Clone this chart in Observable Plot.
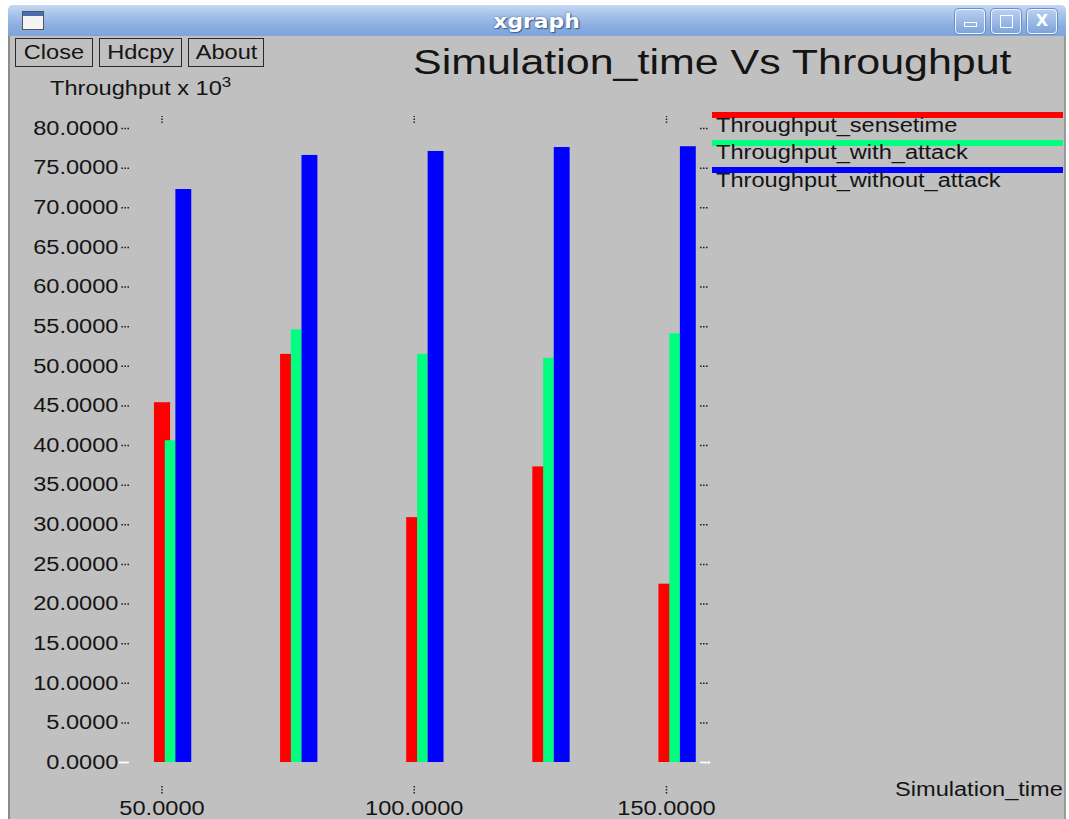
<!DOCTYPE html>
<html><head><meta charset="utf-8">
<script src="https://cdn.jsdelivr.net/npm/d3@7"></script>
<script src="https://cdn.jsdelivr.net/npm/@observablehq/plot@0.6"></script>
<style>
html,body{margin:0;padding:0;background:#fff;width:1069px;height:819px;overflow:hidden;position:relative;}
.abs{position:absolute;}
.t{position:absolute;white-space:nowrap;font-family:"Liberation Sans",Arial,sans-serif;line-height:1;transform-origin:0 0;transform:scaleX(1.21);color:#141414;}
#titlebar{left:8px;top:5px;width:1058px;height:31px;border-radius:5px 5px 0 0;
  background:linear-gradient(to bottom,#c4d8f2 0%,#a3c0e8 35%,#89addf 70%,#7ea4da 100%);}
#wtitle{left:0;top:0;width:1058px;height:31px;display:flex;align-items:center;justify-content:center;
  font-family:"DejaVu Sans",sans-serif;font-weight:bold;font-size:19px;color:#fff;text-shadow:0 0 2px #4a6a9a,1px 1px 1px #3b5a8a;}
#wtitle span{display:inline-block;transform:scaleX(1.15);}
.wbtn{position:absolute;top:4px;width:28px;height:23px;border:1px solid #eef4ff;border-radius:4px;
  background:linear-gradient(to bottom,#b8cff0,#7ea4da);box-shadow:0 0 0 1px #6a8fc6;}
#body{left:8px;top:36px;width:1054px;height:800px;background:#c0c0c0;border-left:2px solid #8c8c8c;border-right:2px solid #9a9a9a;}
.btn{position:absolute;top:38px;height:29px;border:1.5px solid #2a2a2a;box-sizing:border-box;display:flex;align-items:center;justify-content:center;}
.btn span{display:inline-block;font-family:"Liberation Sans",Arial,sans-serif;font-size:19.5px;color:#141414;transform:scaleX(1.21);line-height:1;}
.lg{position:absolute;left:712px;width:351px;height:6px;}
#chart{position:absolute;left:0;top:0;}
</style></head>
<body>
<div id="titlebar" class="abs">
  <div id="wtitle" class="abs"><span>xgraph</span></div>
  <div class="abs" style="left:14px;top:6px;width:20px;height:17px;background:#f4f4f4;border:1px solid #555;">
    <div style="height:4px;background:#4a6fb0;"></div></div>
  <div class="wbtn" style="left:947px;"><div class="abs" style="left:8px;top:12px;width:11px;height:3px;border:1px solid #fff;"></div></div>
  <div class="wbtn" style="left:983px;"><div class="abs" style="left:8px;top:5px;width:11px;height:11px;border:1px solid #fff;"></div></div>
  <div class="wbtn" style="left:1019px;"><div class="abs" style="left:0;top:1px;width:28px;text-align:center;color:#fff;font:bold 16px 'DejaVu Sans',sans-serif;">X</div></div>
</div>
<div id="body" class="abs"></div>
<div class="btn" style="left:15px;width:78px;"><span>Close</span></div>
<div class="btn" style="left:99px;width:83px;"><span>Hdcpy</span></div>
<div class="btn" style="left:188px;width:76px;"><span>About</span></div>
<div class="t" style="left:413px;top:45px;font-size:35.5px;">Simulation_time Vs Throughput</div>
<div class="t" style="left:50px;top:79px;font-size:19.5px;">Throughput x 10<span style="font-size:14px;position:relative;top:-8px;">3</span></div>
<div class="t" style="left:895px;top:780px;font-size:19.5px;">Simulation_time</div>
<div id="legend"></div>
<div id="chart"></div>
<script>
// ---- data ----
const times = [50, 75, 100, 125, 150];
const senseTime = [45.4, 51.5, 30.9, 37.3, 22.5];
const withAttack = [40.6, 54.6, 51.5, 51.0, 54.1];
const withoutAttack = [72.3, 76.6, 77.1, 77.6, 77.7];
const seriesNames = ["Throughput_sensetime", "Throughput_with_attack", "Throughput_without_attack"];
const seriesColors = ["#ff0000", "#00ff7f", "#0000ff"];
const yTicks = [0, 5, 10, 15, 20, 25, 30, 35, 40, 45, 50, 55, 60, 65, 70, 75, 80];
const xTicks = [50, 100, 150];

const seriesValues = [senseTime, withAttack, withoutAttack];
// bar extents relative to each time point (x data units)
const barSpan = [[-1.5, 1.7], [0.65, 2.75], [2.75, 5.9]];

const barMarks = seriesValues.map((vals, s) =>
  Plot.rectY(times.map((t, i) => ({t, v: vals[i]})), {
    x1: d => d.t + barSpan[s][0],
    x2: d => d.t + barSpan[s][1],
    y1: 0, y2: "v",
    fill: seriesColors[s]
  })
);

const dots = {stroke: "#222", strokeWidth: 1.5, strokeDasharray: "1.6,1.4"};

const chart = Plot.plot({
  width: 1069, height: 819,
  marginLeft: 129, marginRight: 370, marginTop: 122, marginBottom: 33,
  style: {background: "transparent", fontFamily: "'Liberation Sans', Arial, sans-serif", fontSize: "19.5px", color: "#141414", overflow: "visible"},
  x: {domain: [50, 150], range: [161.5, 666]},
  y: {domain: [0, 80], range: [762, 128]},
  marks: [
    ...barMarks,
    Plot.axisY(yTicks, {anchor: "left", tickSize: 9, tickPadding: 2, tickFormat: d => d.toFixed(4), label: null, ...dots}),
    Plot.axisY([0], {anchor: "left", tickSize: 10, tickFormat: () => "", label: null, stroke: "#fff", strokeWidth: 2}),
    Plot.axisY(yTicks, {anchor: "right", tickSize: 9, tickFormat: () => "", label: null, ...dots}),
    Plot.axisY([0], {anchor: "right", tickSize: 10, tickFormat: () => "", label: null, stroke: "#fff", strokeWidth: 2}),
    Plot.axisX(xTicks, {anchor: "top", tickSize: 7, tickFormat: () => "", label: null, ...dots}),
    Plot.axisX(xTicks, {anchor: "bottom", tickSize: 8, tickPadding: 7, tickFormat: d => d.toFixed(4), label: null, ...dots})
  ]
});
document.getElementById("chart").appendChild(chart);
// stretch axis text horizontally like the reference
chart.querySelectorAll("text").forEach(t => {
  const L = t.getComputedTextLength();
  if (L > 0) { t.setAttribute("textLength", (L * 1.21).toFixed(1)); t.setAttribute("lengthAdjust", "spacingAndGlyphs"); }
});

// legend
const lg = document.getElementById("legend");
seriesNames.forEach((name, i) => {
  const y0 = 112 + i * 27.6;
  const line = document.createElement("div");
  line.className = "lg";
  line.style.top = y0 + "px";
  line.style.background = seriesColors[i];
  lg.appendChild(line);
  const tx = document.createElement("div");
  tx.className = "t";
  tx.style.left = "716px";
  tx.style.top = (y0 + 3.5) + "px";
  tx.style.fontSize = "19.5px";
  tx.textContent = name;
  lg.appendChild(tx);
});
</script>
</body></html>
